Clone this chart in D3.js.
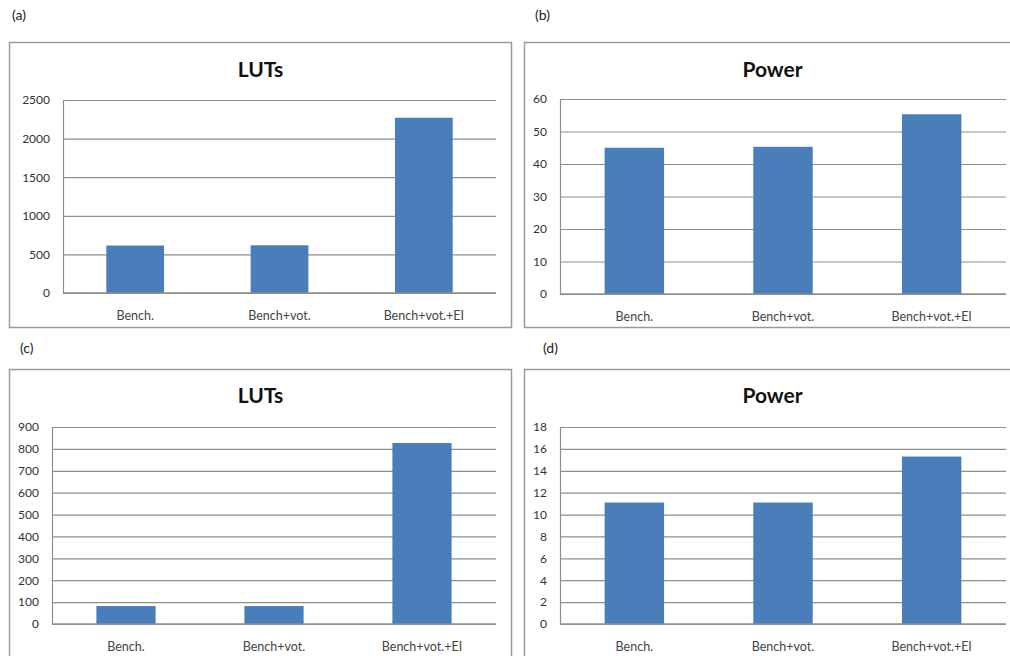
<!DOCTYPE html>
<html>
<head>
<meta charset="utf-8">
<script src="https://cdn.jsdelivr.net/npm/d3@7"></script>
<style>
  html, body { margin: 0; padding: 0; background: #fff; }
  svg { display: block; }
  text { font-family: Lato, "Open Sans", sans-serif; }
</style>
</head>
<body>
<svg id="chart" width="1010" height="656"></svg>
<script>
// Categories shared by all four panels
const categories = ["Bench.", "Bench+vot.", "Bench+vot.+EI"];

// Panel values
const lutsA = [615, 618, 2270];
const powerB = [45.0, 45.3, 55.3];
const lutsC = [82, 82, 827];
const powerD = [11.1, 11.1, 15.3];

// Y-axis tick values per panel
const ticksA = [0, 500, 1000, 1500, 2000, 2500];
const ticksB = [0, 10, 20, 30, 40, 50, 60];
const ticksC = [0, 100, 200, 300, 400, 500, 600, 700, 800, 900];
const ticksD = [0, 2, 4, 6, 8, 10, 12, 14, 16, 18];

const titles = ["LUTs", "Power", "LUTs", "Power"];
const panelLabels = ["(a)", "(b)", "(c)", "(d)"];

const BAR = "#4a7ebb";
const GRID = "#8e8e8e";
const FRAME = "#9a9a9a";

const svg = d3.select("#chart");

const panels = [
  { values: lutsA, ticks: ticksA, title: titles[0], label: panelLabels[0],
    labelX: 12, labelY: 20,
    frame: { x: 9.5, y: 42.5, w: 502, h: 285 },
    plot: { l: 63, t: 100, r: 496, b: 293 }, titleY: 77 },
  { values: powerB, ticks: ticksB, title: titles[1], label: panelLabels[1],
    labelX: 535, labelY: 20,
    frame: { x: 524.5, y: 42.5, w: 496, h: 285 },
    plot: { l: 560, t: 99, r: 1006, b: 294 }, titleY: 77 },
  { values: lutsC, ticks: ticksC, title: titles[2], label: panelLabels[2],
    labelX: 20, labelY: 353,
    frame: { x: 9.5, y: 369.5, w: 502, h: 300 },
    plot: { l: 52, t: 427, r: 496, b: 624 }, titleY: 403 },
  { values: powerD, ticks: ticksD, title: titles[3], label: panelLabels[3],
    labelX: 543, labelY: 353,
    frame: { x: 524.5, y: 369.5, w: 496, h: 300 },
    plot: { l: 560, t: 427, r: 1006, b: 624 }, titleY: 403 }
];

panels.forEach(p => {
  const g = svg.append("g");

  // panel letter
  g.append("text")
    .attr("x", p.labelX).attr("y", p.labelY)
    .attr("font-size", 14).attr("fill", "#222")
    .text(p.label);

  // chart frame
  g.append("rect")
    .attr("x", p.frame.x).attr("y", p.frame.y)
    .attr("width", p.frame.w).attr("height", p.frame.h)
    .attr("fill", "none").attr("stroke", FRAME).attr("stroke-width", 1.5);

  // title
  g.append("text")
    .attr("x", p.frame.x + p.frame.w / 2).attr("y", p.titleY)
    .attr("text-anchor", "middle")
    .attr("font-size", 21).attr("font-weight", "bold").attr("fill", "#111")
    .text(p.title);

  const x = d3.scaleBand()
    .domain(categories)
    .range([p.plot.l, p.plot.r])
    .paddingInner(0.6).paddingOuter(0.3);

  const y = d3.scaleLinear()
    .domain([0, d3.max(p.ticks)])
    .range([p.plot.b, p.plot.t]);

  // horizontal gridlines with tick labels
  const yAxis = d3.axisLeft(y)
    .tickValues(p.ticks)
    .tickSize(-(p.plot.r - p.plot.l))
    .tickPadding(13)
    .tickFormat(d3.format("d"));

  const ya = g.append("g")
    .attr("transform", `translate(${p.plot.l},0)`)
    .call(yAxis);
  ya.select(".domain").attr("stroke", GRID).attr("stroke-width", 1.2);
  ya.selectAll(".tick line").attr("stroke", GRID).attr("stroke-width", 1.2);
  ya.selectAll(".tick text")
    .attr("font-family", "Lato, sans-serif")
    .attr("font-size", 12).attr("fill", "#333");

  // bars
  g.selectAll("rect.bar")
    .data(p.values)
    .join("rect")
    .attr("class", "bar")
    .attr("x", (d, i) => x(categories[i]))
    .attr("width", x.bandwidth())
    .attr("y", d => y(d))
    .attr("height", d => y(0) - y(d))
    .attr("fill", BAR);

  // category axis
  const xAxis = d3.axisBottom(x).tickSize(0).tickPadding(18);
  const xa = g.append("g")
    .attr("transform", `translate(0,${p.plot.b})`)
    .call(xAxis);
  xa.select(".domain")
    .attr("d", `M${p.plot.l},0H${p.plot.r}`)
    .attr("stroke", GRID).attr("stroke-width", 1.5);
  xa.selectAll(".tick text")
    .attr("font-family", "Lato, sans-serif")
    .attr("font-size", 12.5).attr("fill", "#444");
});
</script>
</body>
</html>
